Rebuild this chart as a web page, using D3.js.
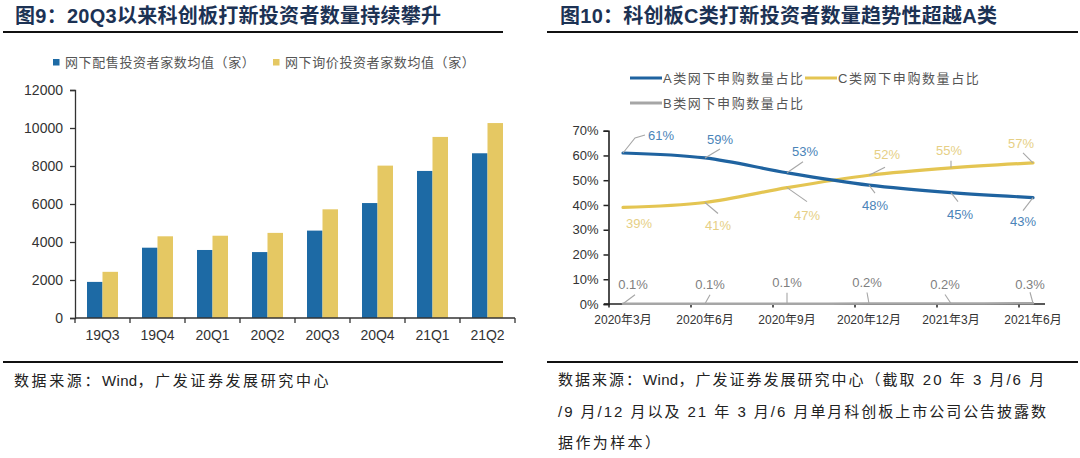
<!DOCTYPE html>
<html><head><meta charset="utf-8">
<script src="https://cdn.jsdelivr.net/npm/d3@7"></script>
<style>
html,body{margin:0;padding:0;background:#fff;}
svg{display:block;}
text{font-family:"Liberation Sans","Noto Sans CJK SC",sans-serif;}
</style></head>
<body>
<svg id="c" width="1080" height="458"></svg>
<script>
// ---------- data ----------
const quarters = ["19Q3","19Q4","20Q1","20Q2","20Q3","20Q4","21Q1","21Q2"];
const placementInvestors = [1900,3700,3580,3470,4600,6050,7740,8670];
const inquiryInvestors   = [2430,4300,4330,4480,5720,8020,9530,10260];
const leftTicks = [0,2000,4000,6000,8000,10000,12000];
const barSeriesNames = ["网下配售投资者家数均值（家）","网下询价投资者家数均值（家）"];

const months = ["2020年3月","2020年6月","2020年9月","2020年12月","2021年3月","2021年6月"];
const shareA = [61,59,53,48,45,43];
const shareC = [39,41,47,52,55,57];
const shareB = [0.1,0.1,0.1,0.2,0.2,0.3];
const rightTicks = [0,10,20,30,40,50,60,70];
const lineSeriesNames = ["A类网下申购数量占比","C类网下申购数量占比","B类网下申购数量占比"];

const title9 = "图9：20Q3以来科创板打新投资者数量持续攀升";
const title10 = "图10：科创板C类打新投资者数量趋势性超越A类";
const source9 = "数据来源：Wind，广发证券发展研究中心";
const source10 = ["数据来源：Wind，广发证券发展研究中心（截取 20 年 3 月/6 月",
                  "/9 月/12 月以及 21 年 3 月/6 月单月科创板上市公司公告披露数",
                  "据作为样本）"];

// ---------- style / layout ----------
const BLUE = "#1d6aa5", YELLOW = "#e5c863";
const LBLUE = "#1f63a0", LYEL = "#e4c552", GRAY = "#a6a6a6";
const svg = d3.select("#c");

function header(x0, x1, tx, title, tl) {
  svg.append("text").attr("x", tx).attr("y", 16).attr("dominant-baseline","central")
    .attr("font-size", 20).attr("font-weight", "bold").attr("fill", "#1c3254")
    .attr("textLength", tl).attr("lengthAdjust", "spacing").text(title);
  svg.append("line").attr("x1", x0).attr("x2", x1).attr("y1", 32).attr("y2", 32)
    .attr("stroke", "#111").attr("stroke-width", 2);
  svg.append("line").attr("x1", x0).attr("x2", x1).attr("y1", 362).attr("y2", 362)
    .attr("stroke", "#111").attr("stroke-width", 2);
}
header(3, 503, 15, title9, 426);
header(547, 1078, 560, title10, 437);

// source text: CJK runs letter-spaced, "Wind" kept tight, fitted to a target width
function sourceLine(x, y, s, target, fixedLs) {
  const parts = s.split(/(Wind)/).filter(p => p.length);
  const t = svg.append("text").attr("x", x).attr("y", y).attr("dominant-baseline","central")
    .attr("font-size", 15).attr("fill", "#222");
  const spans = parts.map(p => t.append("tspan").text(p).attr("letter-spacing", 0).datum(p));
  let ls = fixedLs;
  if (target) {
    const w0 = t.node().getComputedTextLength();
    const n = parts.filter(p => p !== "Wind").reduce((a, p) => a + p.length, 0);
    ls = (target - w0) / n;
  }
  spans.forEach(sp => sp.attr("letter-spacing", sp.datum() === "Wind" ? 0.3 : ls));
}
sourceLine(14, 380, source9, 316);
const srcLens = [487, 490, null];
source10.forEach((s, i) => sourceLine(558, 379 + i * 31.5, s, srcLens[i], 2.4));

// ---------- left bar chart ----------
const x0 = d3.scaleBand().domain(quarters).range([75, 515]).padding(0);
const x1 = d3.scaleBand().domain([0,1]).range([12, 43]).padding(0);
const yL = d3.scaleLinear().domain([0, 12000]).range([318, 90]);

const gL = svg.append("g");
const bars = [placementInvestors, inquiryInvestors];
const barColors = [BLUE, YELLOW];
bars.forEach((vals, si) => {
  gL.selectAll(null).data(vals).enter().append("rect")
    .attr("x", (d, i) => x0(quarters[i]) + x1(si))
    .attr("width", x1.bandwidth())
    .attr("y", d => yL(d)).attr("height", d => yL(0) - yL(d))
    .attr("fill", barColors[si]);
});
const yAxL = gL.append("g").attr("transform", "translate(75,0)")
  .call(d3.axisLeft(yL).tickValues(leftTicks).tickSize(5).tickPadding(7).tickFormat(d3.format("d")));
yAxL.select(".domain").attr("stroke", "#333").attr("stroke-width", 1.3);
yAxL.selectAll(".tick line").attr("stroke", "#333").attr("stroke-width", 1.3);
yAxL.selectAll("text").attr("font-size", 14).attr("fill", "#333")
  .attr("font-family", "'Liberation Sans',sans-serif");
const xAxL = gL.append("g").attr("transform", "translate(0,318)");
xAxL.append("line").attr("x1", 75).attr("x2", 515).attr("stroke", "#333").attr("stroke-width", 1.3);
xAxL.selectAll(null).data(quarters.concat(["_end"])).enter().append("line")
  .attr("x1", (d, i) => i < quarters.length ? x0(d) : x0.range()[1])
  .attr("x2", (d, i) => i < quarters.length ? x0(d) : x0.range()[1])
  .attr("y1", 0).attr("y2", 5).attr("stroke", "#333").attr("stroke-width", 1.3);
xAxL.selectAll(null).data(quarters).enter().append("text")
  .attr("x", d => x0(d) + x0.bandwidth() / 2).attr("y", 17)
  .attr("text-anchor", "middle").attr("dominant-baseline","central")
  .attr("font-size", 14).attr("fill", "#333").text(d => d);
const legL = [{x: 53, c: BLUE, t: barSeriesNames[0]}, {x: 273, c: YELLOW, t: barSeriesNames[1]}];
legL.forEach(l => {
  svg.append("rect").attr("x", l.x).attr("y", 59).attr("width", 6.5).attr("height", 6.5).attr("fill", l.c);
  svg.append("text").attr("x", l.x + 12).attr("y", 62).attr("dominant-baseline","central")
    .attr("font-size", 13).attr("fill", "#555").attr("letter-spacing", 0.6).text(l.t);
});

// ---------- right line chart ----------
const xR = d3.scalePoint().domain(months).range([623, 1033]);
const yR = d3.scaleLinear().domain([0, 70]).range([304, 130.7]);
const gR = svg.append("g");

gR.append("line").attr("x1", 604).attr("x2", 1045).attr("y1", 304).attr("y2", 304)
  .attr("stroke", "#222").attr("stroke-width", 1.6);
gR.selectAll(null).data(months).enter().append("line")
  .attr("x1", d => xR(d) - 14).attr("x2", d => xR(d) - 14)
  .attr("y1", 304).attr("y2", 307.5).attr("stroke", "#222").attr("stroke-width", 1.5);
gR.selectAll(null).data(months).enter().append("text")
  .attr("x", d => xR(d)).attr("y", 320).attr("text-anchor", "middle").attr("dominant-baseline","central")
  .attr("font-size", 12).attr("fill", "#333").text(d => d);
const yAxR = gR.append("g").attr("transform", "translate(608.5,0)")
  .call(d3.axisLeft(yR).tickValues(rightTicks).tickSize(5).tickPadding(5).tickFormat(d => d + "%"));
yAxR.select(".domain").attr("stroke", "#222").attr("stroke-width", 1.6);
yAxR.selectAll(".tick line").attr("stroke", "#222").attr("stroke-width", 1.5);
yAxR.selectAll("text").attr("font-size", 13).attr("fill", "#333")
  .attr("font-family", "'Liberation Sans',sans-serif");

const line = d3.line().x((d, i) => xR(months[i])).y(d => yR(d)).curve(d3.curveCatmullRom);
const series = [
  {vals: shareB, color: GRAY, lab: "#7f7f7f", fmt: d => d3.format(".1f")(d) + "%",
   off: [[10,-19,12,-9],[5,-19,5,-9],[0,-21,0,-11],[-2,-21,-2,-11],[-6,-19,-6,-9],[-3,-19,-3,-11]], w: 2.5},
  {vals: shareC, color: LYEL, lab: "#e6cf85", fmt: d => d + "%",
   off: [[16,16,null,null],[13,23.5,13,11],[20,28,20,14],[18,-21,16,-8],[-2,-17,0,-7],[-12,-19,-10,-10]], w: 3.2},
  {vals: shareA, color: LBLUE, lab: "#4a84b8", fmt: d => d + "%",
   off: [[38,-17,12,-15],[15,-18,15,-9],[18,-21,16,-11],[6,20,6,8],[9,22,7,9],[-10,24,-10,13]], w: 3.2}
];
series.forEach(s => {
  gR.append("path").datum(s.vals).attr("d", line).attr("fill", "none")
    .attr("stroke", s.color).attr("stroke-width", s.w).attr("stroke-linecap", "round");
});
series.forEach(s => {
  s.vals.forEach((v, i) => {
    const px = xR(months[i]), py = yR(v), o = s.off[i];
    if (o[2] !== null) {
      const pts = [[px, py], [px + o[2], py + o[3]]];
      if (s === series[2] && i === 0) pts.push([px + 22, py - 18]);
      gR.append("path").attr("d", d3.line()(pts)).attr("fill", "none")
        .attr("stroke", "#a6a6a6").attr("stroke-width", 1.1);
    }
    gR.append("text").attr("x", px + o[0]).attr("y", py + o[1])
      .attr("text-anchor", "middle").attr("dominant-baseline","central")
      .attr("font-size", 13).attr("fill", s.lab).text(s.fmt(v));
  });
});

const legR = [
  {x: 630, y: 78, c: LBLUE, t: lineSeriesNames[0]},
  {x: 805, y: 78, c: LYEL, t: lineSeriesNames[1]},
  {x: 630, y: 103, c: GRAY, t: lineSeriesNames[2]}
];
legR.forEach(l => {
  svg.append("line").attr("x1", l.x).attr("x2", l.x + 32).attr("y1", l.y).attr("y2", l.y)
    .attr("stroke", l.c).attr("stroke-width", 3);
  svg.append("text").attr("x", l.x + 33).attr("y", l.y).attr("dominant-baseline","central")
    .attr("font-size", 13).attr("fill", "#555").attr("letter-spacing", 1.6).text(l.t);
});
</script>
</body></html>
